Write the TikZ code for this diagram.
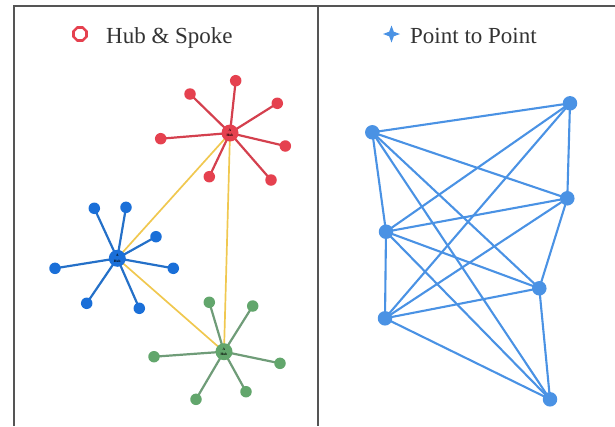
\documentclass[tikz,border=0pt]{standalone}
\usepackage{fontspec}
\setmainfont{Liberation Serif}
\usetikzlibrary{shapes.geometric,backgrounds}
\definecolor{hred}{HTML}{E5414F}
\definecolor{hredline}{HTML}{D4404E}
\definecolor{hblue}{HTML}{1A6FD8}
\definecolor{hblueline}{HTML}{2470C8}
\definecolor{hgreen}{HTML}{62A66C}
\definecolor{hgreenline}{HTML}{6F9C78}
\definecolor{hyellow}{HTML}{F0C850}
\definecolor{pblue}{HTML}{4A92E4}
\definecolor{frame}{HTML}{555555}
\tikzset{
  dot/.style={circle, inner sep=0pt, minimum size=11.5pt},
  reddot/.style={dot, fill=hred},
  bluedot/.style={dot, fill=hblue},
  greendot/.style={dot, fill=hgreen},
  hub/.style={circle, inner sep=0pt, minimum size=17pt, font=\fontsize{3.5}{3.5}\selectfont\bfseries, text=black},
  redspoke/.style={draw=hredline, line width=2.2pt},
  bluespoke/.style={draw=hblueline, line width=2.2pt},
  greenspoke/.style={draw=hgreenline, line width=2.2pt},
  link/.style={draw=hyellow, line width=1.7pt},
  pdot/.style={circle, inner sep=0pt, minimum size=14.5pt, fill=pblue},
  pedge/.style={draw=pblue, line width=2.1pt},
  title/.style={font=\fontsize{23}{23}\selectfont, text=black!80, anchor=base west, inner sep=0pt},
  framel/.style={draw=frame, line width=1.6pt}
}
\begin{document}
\begin{tikzpicture}[x=1pt,y=-1pt]
\useasboundingbox (0,0) rectangle (615,426);
% frame
\coordinate (tl) at (14,6);
\coordinate (tr) at (615,6);
\coordinate (bl) at (14,426);
\coordinate (mt) at (318,6);
\coordinate (mb) at (318,426);
\draw[framel] (bl) -- (tl) -- (tr);
\draw[framel] (mt) -- (mb);

% legends
\node[regular polygon, regular polygon sides=8, draw=hred, line width=2.6pt, fill=white, minimum size=14pt, inner sep=0pt] (lh) at (80,34) {};
\node[title] (th) at (106,43) {Hub \& Spoke};
\node[star, star points=4, star point ratio=2.6, fill=pblue, minimum size=17pt, inner sep=0pt] (lp) at (391.5,34) {};
\node[title] (tp) at (410,43) {Point to Point};

% red hub
\node[hub, fill=hred] (r0) at (230,133) {\shortstack{\textbf{A}\\Hub}};
\node[reddot] (r1) at (235.7,80.7) {};
\node[reddot] (r2) at (190,94) {};
\node[reddot] (r3) at (277.3,103.3) {};
\node[reddot] (r4) at (160.7,138.7) {};
\node[reddot] (r5) at (285.3,146) {};
\node[reddot] (r6) at (209.3,176.7) {};
\node[reddot] (r7) at (271,180) {};
% blue hub
\node[hub, fill=hblue] (b0) at (117.3,258.3) {\shortstack{\textbf{A}\\Hub}};
\node[bluedot] (b1) at (94.3,208.3) {};
\node[bluedot] (b2) at (126,207.3) {};
\node[bluedot] (b3) at (156,236.7) {};
\node[bluedot] (b4) at (55,268.3) {};
\node[bluedot] (b5) at (173.3,268.3) {};
\node[bluedot] (b6) at (86.7,303.3) {};
\node[bluedot] (b7) at (139.3,308.3) {};
% green hub
\node[hub, fill=hgreen] (g0) at (224,351.7) {\shortstack{\textbf{A}\\Hub}};
\node[greendot] (g1) at (209.3,302.3) {};
\node[greendot] (g2) at (252.7,306) {};
\node[greendot] (g3) at (154,356.7) {};
\node[greendot] (g4) at (280,363.3) {};
\node[greendot] (g5) at (246,391.7) {};
\node[greendot] (g6) at (196,399.3) {};

% point to point
\node[pdot] (pa) at (372.3,132.3) {};
\node[pdot] (pb) at (570,103.3) {};
\node[pdot] (pc) at (567.3,198.3) {};
\node[pdot] (pd) at (386,231.7) {};
\node[pdot] (pe) at (539.3,288.3) {};
\node[pdot] (pf) at (385,318.3) {};
\node[pdot] (pg) at (550,399.3) {};

\begin{scope}[on background layer]
\draw[link] (r0.center) -- (b0.center);
\draw[link] (r0.center) -- (g0.center);
\draw[link] (b0.center) -- (g0.center);
\foreach \i in {1,...,7} {\draw[redspoke] (r0.center) -- (r\i.center);}
\foreach \i in {1,...,7} {\draw[bluespoke] (b0.center) -- (b\i.center);}
\foreach \i in {1,...,6} {\draw[greenspoke] (g0.center) -- (g\i.center);}
\foreach \u/\v in {pa/pb,pa/pc,pa/pd,pa/pe,pa/pg,pb/pc,pb/pd,pb/pf,pc/pd,pc/pf,pc/pe,pd/pe,pd/pg,pd/pf,pe/pf,pe/pg,pf/pg}
  {\draw[pedge] (\u.center) -- (\v.center);}
\end{scope}
\end{tikzpicture}
\end{document}
